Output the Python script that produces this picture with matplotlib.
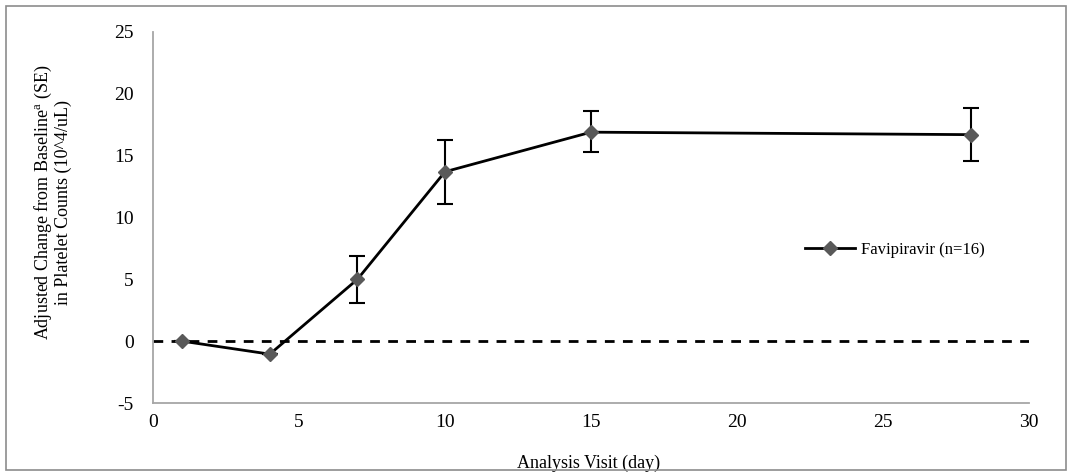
import matplotlib
matplotlib.use("Agg")
import matplotlib.pyplot as plt
from matplotlib.patches import Rectangle

plt.rcParams['font.family'] = ['Liberation Serif', 'DejaVu Serif']
plt.rcParams['mathtext.fontset'] = 'custom'
plt.rcParams['mathtext.rm'] = 'Liberation Serif'
plt.rcParams['axes.unicode_minus'] = False

days = [1, 4, 7, 10, 15, 28]
change = [0.0, -1.05, 5.0, 13.7, 16.9, 16.7]
err_low = [0.0, 0.0, 1.9, 2.6, 1.6, 2.15]
err_high = [0.0, 0.0, 1.9, 2.6, 1.7, 2.15]
series_label = "Favipiravir (n=16)"
xticks = [0, 5, 10, 15, 20, 25, 30]
yticks = [-5, 0, 5, 10, 15, 20, 25]

fig = plt.figure(figsize=(10.71, 4.72), dpi=100)
ax = fig.add_axes([153/1071, 1-403/472, (1029-153)/1071, (403-32)/472])

ax.axhline(0, color='black', lw=2, ls=(0, (3.5, 3)), zorder=1)
ax.errorbar(days, change, yerr=[err_low, err_high], fmt='none', ecolor='black',
            elinewidth=1.5, capsize=5.5, capthick=1.5, zorder=2)
ax.plot(days, change, color='black', lw=2, marker='D', markersize=7.5,
        markerfacecolor='#595959', markeredgecolor='#595959', zorder=3,
        label=series_label)

ax.set_xlim(0, 30)
ax.set_ylim(-5, 25)
ax.set_xticks(xticks)
ax.set_yticks(yticks)
ax.tick_params(length=0, labelsize=14)
ax.tick_params(axis='y', pad=14)
ax.tick_params(axis='x', pad=8)
for s in ['top', 'right']:
    ax.spines[s].set_visible(False)
for s in ['left', 'bottom']:
    ax.spines[s].set_color('#A6A6A6')
    ax.spines[s].set_linewidth(1.3)

ax.set_xlabel("Analysis Visit (day)", fontsize=13)
ax.xaxis.set_label_coords(0.497, -0.138)
ax.set_ylabel("Adjusted Change from Baseline$^{\\mathrm{a}}$ (SE)\nin Platelet Counts (10^4/uL)",
              fontsize=13, linespacing=1.0)
ax.yaxis.set_label_coords(-0.093, 0.54)

ax.legend(loc='center left', bbox_to_anchor=(0.744, 0.412), frameon=False, fontsize=12,
          handlelength=3.0, handletextpad=0.35, borderaxespad=0, borderpad=0)

fig.patches.append(Rectangle((6/1071, 2/472), 1060/1071, 464/472, transform=fig.transFigure,
                             fill=False, edgecolor='#8C8C8C', lw=1.2))

fig.savefig("out.png", dpi=100)
